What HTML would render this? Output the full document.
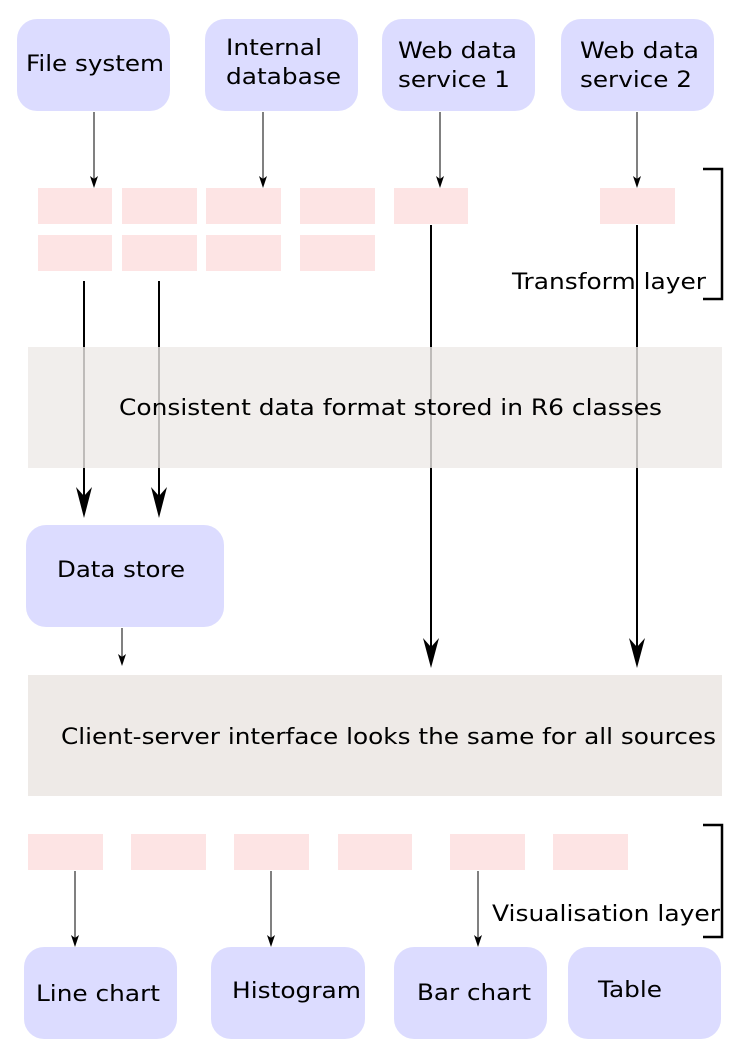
<!DOCTYPE html>
<html><head><meta charset="utf-8"><style>html,body{margin:0;padding:0;background:#fff}svg{display:block}</style></head>
<body>
<svg width="744" height="1052" viewBox="0 0 744 1052" xmlns="http://www.w3.org/2000/svg" font-family="DejaVu Sans, Liberation Sans, sans-serif" font-size="22" fill="#000">
<g fill="#dcdcff">
<rect x="17" y="19" width="153" height="92" rx="20"/>
<rect x="205" y="19" width="153" height="92" rx="20"/>
<rect x="382" y="19" width="153" height="92" rx="20"/>
<rect x="561" y="19" width="153" height="92" rx="20"/>
<rect x="26" y="525" width="198" height="102" rx="20"/>
<rect x="24" y="947" width="153" height="92" rx="20"/>
<rect x="211" y="947" width="154" height="92" rx="20"/>
<rect x="394" y="947" width="153" height="92" rx="20"/>
<rect x="568" y="947" width="153" height="92" rx="20"/>
</g>
<g fill="#fde4e4">
<rect x="38" y="188" width="74" height="36"/><rect x="122" y="188" width="75" height="36"/><rect x="206" y="188" width="75" height="36"/><rect x="300" y="188" width="75" height="36"/><rect x="394" y="188" width="74" height="36"/><rect x="600" y="188" width="75" height="36"/>
<rect x="38" y="235" width="74" height="36"/><rect x="122" y="235" width="75" height="36"/><rect x="206" y="235" width="75" height="36"/><rect x="300" y="235" width="75" height="36"/>
<rect x="28" y="834" width="75" height="36"/><rect x="131" y="834" width="75" height="36"/><rect x="234" y="834" width="75" height="36"/><rect x="338" y="834" width="74" height="36"/><rect x="450" y="834" width="75" height="36"/><rect x="553" y="834" width="75" height="36"/>
</g>
<g stroke="#000" stroke-width="1" fill="none">
<line x1="94" y1="112" x2="94" y2="180"/>
<line x1="263" y1="112" x2="263" y2="180"/>
<line x1="440" y1="112" x2="440" y2="180"/>
<line x1="637" y1="112" x2="637" y2="180"/>
<line x1="122" y1="628" x2="122" y2="658"/>
<line x1="75" y1="871" x2="75" y2="939"/>
<line x1="271" y1="871" x2="271" y2="939"/>
<line x1="478" y1="871" x2="478" y2="939"/>
</g>
<g fill="#000">
<path d="M90,176 L94,179 L98,176 L94,188 Z"/>
<path d="M259,176 L263,179 L267,176 L263,188 Z"/>
<path d="M436,176 L440,179 L444,176 L440,188 Z"/>
<path d="M633,176 L637,179 L641,176 L637,188 Z"/>
<path d="M118,654 L122,657 L126,654 L122,666 Z"/>
<path d="M71,935 L75,938 L79,935 L75,947 Z"/>
<path d="M267,935 L271,938 L275,935 L271,947 Z"/>
<path d="M474,935 L478,938 L482,935 L478,947 Z"/>
</g>
<g stroke="#000" stroke-width="2">
<line x1="84" y1="281" x2="84" y2="500"/>
<line x1="159" y1="281" x2="159" y2="500"/>
<line x1="431" y1="225" x2="431" y2="650"/>
<line x1="637" y1="225" x2="637" y2="650"/>
</g>
<g fill="#000">
<path d="M76,487 L84,496 L92,487 L84,518 Z"/>
<path d="M151,487 L159,496 L167,487 L159,518 Z"/>
<path d="M423,638 L431,647 L439,638 L431,668 Z"/>
<path d="M629,638 L637,647 L645,638 L637,668 Z"/>
</g>
<rect x="28" y="347" width="694" height="121" fill="#eeeae7" fill-opacity="0.8"/>
<rect x="28" y="675" width="694" height="121" fill="#eeeae7"/>
<g stroke="#000" stroke-width="2.5" fill="none">
<path d="M703,169 H722 V299 H703"/>
<path d="M703,825 H722 V937 H703"/>
</g>
<g>
<text x="26" y="71" textLength="138" lengthAdjust="spacingAndGlyphs">File system</text>
<text x="226" y="55" textLength="96" lengthAdjust="spacingAndGlyphs">Internal</text>
<text x="226" y="84" textLength="115" lengthAdjust="spacingAndGlyphs">database</text>
<text x="398" y="58" textLength="119" lengthAdjust="spacingAndGlyphs">Web data</text>
<text x="398" y="87" textLength="112" lengthAdjust="spacingAndGlyphs">service 1</text>
<text x="580" y="58" textLength="119" lengthAdjust="spacingAndGlyphs">Web data</text>
<text x="580" y="87" textLength="112" lengthAdjust="spacingAndGlyphs">service 2</text>
<text x="512" y="289" textLength="194" lengthAdjust="spacingAndGlyphs">Transform layer</text>
<text x="119" y="415" textLength="543" lengthAdjust="spacingAndGlyphs">Consistent data format stored in R6 classes</text>
<text x="57" y="577" textLength="128" lengthAdjust="spacingAndGlyphs">Data store</text>
<text x="61" y="744" textLength="655" lengthAdjust="spacingAndGlyphs">Client-server interface looks the same for all sources</text>
<text x="492" y="921" textLength="228" lengthAdjust="spacingAndGlyphs">Visualisation layer</text>
<text x="36" y="1001" textLength="124" lengthAdjust="spacingAndGlyphs">Line chart</text>
<text x="232" y="998" textLength="129" lengthAdjust="spacingAndGlyphs">Histogram</text>
<text x="417" y="1000" textLength="114" lengthAdjust="spacingAndGlyphs">Bar chart</text>
<text x="598" y="997" textLength="64" lengthAdjust="spacingAndGlyphs">Table</text>
</g>
</svg>
</body></html>
